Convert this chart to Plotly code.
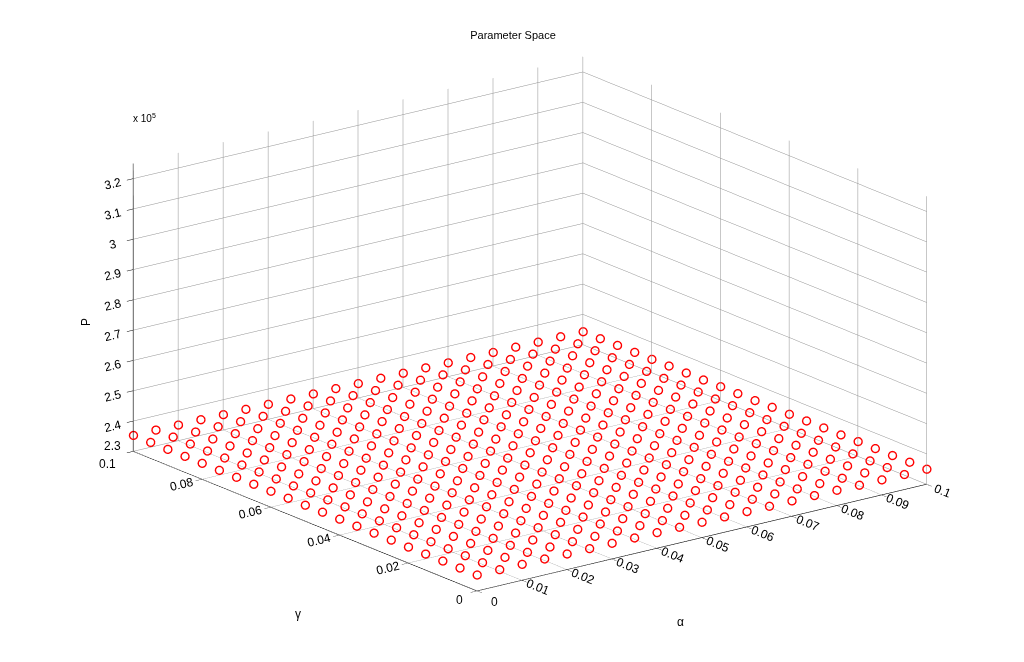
import plotly.graph_objects as go

# grid of parameters
alpha = [0.0, 0.005, 0.01, 0.015, 0.02, 0.025, 0.03, 0.035, 0.04, 0.045, 0.05,
         0.055, 0.06, 0.065, 0.07, 0.075, 0.08, 0.085, 0.09, 0.095, 0.1]
gamma = [0.0, 0.005, 0.01, 0.015, 0.02, 0.025, 0.03, 0.035, 0.04, 0.045, 0.05,
         0.055, 0.06, 0.065, 0.07, 0.075, 0.08, 0.085, 0.09, 0.095, 0.1]

# P in thousands, one row per gamma value, columns follow alpha
P_k = [
    [235.3, 235.3, 235.3, 235.3, 235.2, 235.2, 235.2, 235.2, 235.2, 235.2, 235.1, 235.1, 235.1, 235.1, 235.1, 235.1, 235.1, 235.0, 235.0, 235.0, 235.0],
    [235.3, 235.3, 235.3, 235.2, 235.2, 235.2, 235.2, 235.2, 235.2, 235.1, 235.1, 235.1, 235.1, 235.1, 235.1, 235.0, 235.0, 235.0, 235.0, 235.0, 235.0],
    [235.3, 235.3, 235.3, 235.2, 235.2, 235.2, 235.2, 235.2, 235.2, 235.1, 235.1, 235.1, 235.1, 235.1, 235.0, 235.0, 235.0, 235.0, 235.0, 234.9, 234.9],
    [235.3, 235.3, 235.3, 235.2, 235.2, 235.2, 235.2, 235.2, 235.1, 235.1, 235.1, 235.1, 235.1, 235.0, 235.0, 235.0, 235.0, 235.0, 234.9, 234.9, 234.9],
    [235.3, 235.3, 235.3, 235.2, 235.2, 235.2, 235.2, 235.1, 235.1, 235.1, 235.1, 235.1, 235.0, 235.0, 235.0, 235.0, 234.9, 234.9, 234.9, 234.9, 234.9],
    [235.3, 235.3, 235.3, 235.2, 235.2, 235.2, 235.2, 235.1, 235.1, 235.1, 235.1, 235.0, 235.0, 235.0, 235.0, 234.9, 234.9, 234.9, 234.9, 234.8, 234.8],
    [235.3, 235.3, 235.2, 235.2, 235.2, 235.2, 235.1, 235.1, 235.1, 235.1, 235.0, 235.0, 235.0, 235.0, 234.9, 234.9, 234.9, 234.9, 234.8, 234.8, 234.8],
    [235.3, 235.3, 235.2, 235.2, 235.2, 235.2, 235.1, 235.1, 235.1, 235.1, 235.0, 235.0, 235.0, 234.9, 234.9, 234.9, 234.9, 234.8, 234.8, 234.8, 234.8],
    [235.3, 235.3, 235.2, 235.2, 235.2, 235.2, 235.1, 235.1, 235.1, 235.0, 235.0, 235.0, 235.0, 234.9, 234.9, 234.9, 234.8, 234.8, 234.8, 234.7, 234.7],
    [235.3, 235.3, 235.2, 235.2, 235.2, 235.1, 235.1, 235.1, 235.1, 235.0, 235.0, 235.0, 234.9, 234.9, 234.9, 234.8, 234.8, 234.8, 234.7, 234.7, 234.7],
    [235.3, 235.3, 235.2, 235.2, 235.2, 235.1, 235.1, 235.1, 235.0, 235.0, 235.0, 234.9, 234.9, 234.9, 234.8, 234.8, 234.8, 234.7, 234.7, 234.7, 234.6],
    [235.3, 235.3, 235.2, 235.2, 235.2, 235.1, 235.1, 235.1, 235.0, 235.0, 235.0, 234.9, 234.9, 234.9, 234.8, 234.8, 234.8, 234.7, 234.7, 234.6, 234.6],
    [235.3, 235.3, 235.2, 235.2, 235.2, 235.1, 235.1, 235.0, 235.0, 235.0, 234.9, 234.9, 234.9, 234.8, 234.8, 234.8, 234.7, 234.7, 234.7, 234.6, 234.6],
    [235.3, 235.3, 235.2, 235.2, 235.1, 235.1, 235.1, 235.0, 235.0, 235.0, 234.9, 234.9, 234.8, 234.8, 234.8, 234.7, 234.7, 234.7, 234.6, 234.6, 234.5],
    [235.3, 235.3, 235.2, 235.2, 235.1, 235.1, 235.1, 235.0, 235.0, 234.9, 234.9, 234.9, 234.8, 234.8, 234.7, 234.7, 234.7, 234.6, 234.6, 234.5, 234.5],
    [235.3, 235.3, 235.2, 235.2, 235.1, 235.1, 235.1, 235.0, 235.0, 234.9, 234.9, 234.8, 234.8, 234.8, 234.7, 234.7, 234.6, 234.6, 234.6, 234.5, 234.5],
    [235.3, 235.3, 235.2, 235.2, 235.1, 235.1, 235.0, 235.0, 235.0, 234.9, 234.9, 234.8, 234.8, 234.7, 234.7, 234.7, 234.6, 234.6, 234.5, 234.5, 234.4],
    [235.3, 235.3, 235.2, 235.2, 235.1, 235.1, 235.0, 235.0, 234.9, 234.9, 234.9, 234.8, 234.8, 234.7, 234.7, 234.6, 234.6, 234.5, 234.5, 234.4, 234.4],
    [235.3, 235.3, 235.2, 235.2, 235.1, 235.1, 235.0, 235.0, 234.9, 234.9, 234.8, 234.8, 234.7, 234.7, 234.6, 234.6, 234.6, 234.5, 234.5, 234.4, 234.4],
    [235.3, 235.3, 235.2, 235.2, 235.1, 235.1, 235.0, 235.0, 234.9, 234.9, 234.8, 234.8, 234.7, 234.7, 234.6, 234.6, 234.5, 234.5, 234.4, 234.4, 234.3],
    [235.3, 235.3, 235.2, 235.2, 235.1, 235.1, 235.0, 235.0, 234.9, 234.9, 234.8, 234.8, 234.7, 234.7, 234.6, 234.6, 234.5, 234.5, 234.4, 234.4, 234.3],
]

z_ticks = [2.3, 2.4, 2.5, 2.6, 2.7, 2.8, 2.9, 3.0, 3.1, 3.2]
z_labels = ['', '2.4', '2.5', '2.6', '2.7', '2.8', '2.9', '3', '3.1', '3.2']
a_ticks = [0, 0.01, 0.02, 0.03, 0.04, 0.05, 0.06, 0.07, 0.08, 0.09, 0.1]
a_labels = ['0', '0.01', '0.02', '0.03', '0.04', '0.05', '0.06', '0.07', '0.08', '0.09', '0.1']
g_ticks = [0, 0.02, 0.04, 0.06, 0.08, 0.1]
g_labels = ['0', '0.02', '0.04', '0.06', '0.08', '']

xs, ys, zs = [], [], []
for j, g in enumerate(gamma):
    for i, a in enumerate(alpha):
        xs.append(a)
        ys.append(g)
        zs.append(P_k[j][i] * 1000)

fig = go.Figure()
fig.add_trace(go.Scatter3d(x=xs, y=ys, z=zs, mode='markers',
                           marker=dict(symbol='circle-open', size=5, color='red',
                                       line=dict(color='red', width=1.2)),
                           showlegend=False, hoverinfo='skip'))

font = dict(family='Liberation Sans, Arial, sans-serif', size=12, color='black')
ax = dict(showbackground=False, gridcolor='#909090', gridwidth=1,
          showline=True, linecolor='black', linewidth=1.2,
          ticks='outside', tickcolor='black', ticklen=8,
          zeroline=False, showspikes=False, tickfont=font, title=dict(text=''))

# the page body adds an 8px margin, so paper labels are placed 8px up-left
OFF = 8


def label(text, px, py, **kw):
    return dict(text=text, x=(px - OFF) / 1024, y=1 - (py - OFF) / 662,
                xref='paper', yref='paper', showarrow=False,
                xanchor='center', yanchor='middle',
                font=dict(family='Liberation Sans, Arial, sans-serif', size=12, color='black'), **kw)


k = 1.71
fig.update_layout(
    width=1024, height=662,
    margin=dict(l=0, r=0, t=0, b=0),
    paper_bgcolor='white',
    font=font,
    title=dict(text='Parameter Space', x=(513 - OFF) / 1024, y=1 - (35 - OFF) / 662,
               xanchor='center', yanchor='middle',
               font=dict(family='Liberation Sans, Arial, sans-serif', size=11)),
    scene=dict(
        xaxis=dict(ax, range=[0, 0.1], tickvals=a_ticks, ticktext=a_labels),
        yaxis=dict(ax, range=[0, 0.1], tickvals=g_ticks, ticktext=g_labels),
        zaxis=dict(ax, range=[230000, 325000],
                   tickvals=[t * 1e5 for t in z_ticks], ticktext=z_labels),
        aspectmode='manual', aspectratio=dict(x=k, y=k, z=0.535 * k),
        camera=dict(projection=dict(type='orthographic'),
                    up=dict(x=0, y=0, z=1),
                    center=dict(x=-0.024, y=0.018, z=-0.048),
                    eye=dict(x=-0.634, y=-0.780, z=0.28)),
        domain=dict(x=[0, 1], y=[0, 1]),
    ),
    annotations=[
        dict(text='x 10<sup>5</sup>', x=(131 - OFF) / 1024, y=1 - (118 - OFF) / 662,
             xref='paper', yref='paper', showarrow=False, xanchor='left', yanchor='middle',
             font=dict(family='Liberation Sans, Arial, sans-serif', size=10)),
        label('α', 680, 622),
        label('γ', 298, 614),
        label('P', 86, 322, textangle=-90),
        label('2.3', 112, 446),
        label('0.1', 107, 464),
        label('0', 459, 600),
        label('0', 494, 602),
    ],
)

fig.write_html("out.html")
